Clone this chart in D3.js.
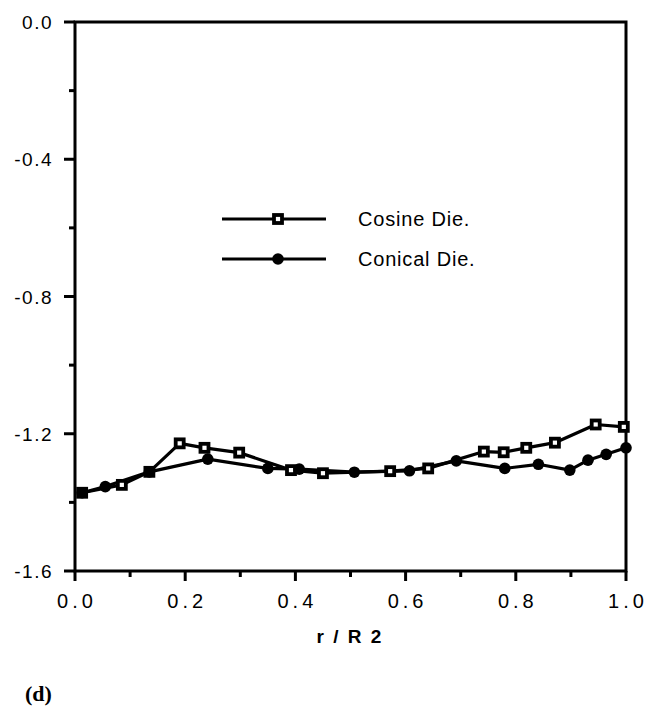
<!DOCTYPE html>
<html>
<head>
<meta charset="utf-8">
<script src="https://cdn.jsdelivr.net/npm/d3@7"></script>
<style>
  html, body { margin: 0; padding: 0; background: #fff; }
  svg { display: block; }
  text { font-family: "Liberation Sans", Arial, Helvetica, sans-serif; fill: #000; }
</style>
</head>
<body>
<svg id="chart" width="661" height="711"></svg>
<script>
// ---- data ----
const cosineX = [0.013, 0.085, 0.135, 0.19, 0.235, 0.298, 0.392, 0.45, 0.572, 0.641, 0.742, 0.778, 0.819, 0.871, 0.945, 0.996];
const cosineY = [-1.372, -1.349, -1.311, -1.228, -1.241, -1.255, -1.306, -1.315, -1.309, -1.301, -1.252, -1.254, -1.241, -1.226, -1.173, -1.180];
const conicalX = [0.013, 0.055, 0.135, 0.241, 0.350, 0.407, 0.507, 0.607, 0.692, 0.780, 0.841, 0.898, 0.931, 0.964, 1.0];
const conicalY = [-1.372, -1.354, -1.311, -1.274, -1.301, -1.303, -1.312, -1.308, -1.279, -1.301, -1.289, -1.306, -1.277, -1.260, -1.241];
const xTicks = [0.0, 0.2, 0.4, 0.6, 0.8, 1.0];
const xMinorTicks = [0.1, 0.3, 0.5, 0.7, 0.9];
const yTicks = [0.0, -0.4, -0.8, -1.2, -1.6];
const yMinorTicks = [-0.2, -0.6, -1.0, -1.4];
const seriesNames = ["Cosine Die.", "Conical Die."];
const xTitle = "r / R 2";
const panelLabel = "(d)";

// ---- layout ----
const svg = d3.select("#chart");
const pL = 75, pR = 626, pT = 22, pB = 571;
const x = d3.scaleLinear().domain([0, 1]).range([pL, pR]);
const y = d3.scaleLinear().domain([-1.6, 0]).range([pB, pT]);

// frame
svg.append("rect")
  .attr("x", pL).attr("y", pT)
  .attr("width", pR - pL).attr("height", pB - pT)
  .attr("fill", "none").attr("stroke", "#000").attr("stroke-width", 3);

// x axis
const xAxis = svg.append("g").attr("transform", `translate(0,${pB})`);
xAxis.selectAll("line.major").data(xTicks).join("line")
  .attr("class", "major")
  .attr("x1", d => x(d)).attr("x2", d => x(d))
  .attr("y1", 0).attr("y2", 10)
  .attr("stroke", "#000").attr("stroke-width", 3);
xAxis.selectAll("line.minor").data(xMinorTicks).join("line")
  .attr("class", "minor")
  .attr("x1", d => x(d)).attr("x2", d => x(d))
  .attr("y1", 0).attr("y2", 6)
  .attr("stroke", "#000").attr("stroke-width", 3);
xAxis.selectAll("text").data(xTicks).join("text")
  .attr("x", d => x(d) + 2).attr("y", 37)
  .attr("text-anchor", "middle")
  .attr("font-size", 20)
  .attr("letter-spacing", 4)
  .text(d => d.toFixed(1));

// y axis
const yAxis = svg.append("g").attr("transform", `translate(${pL},0)`);
yAxis.selectAll("line.major").data(yTicks).join("line")
  .attr("class", "major")
  .attr("x1", -11).attr("x2", 0)
  .attr("y1", d => y(d)).attr("y2", d => y(d))
  .attr("stroke", "#000").attr("stroke-width", 3);
yAxis.selectAll("line.minor").data(yMinorTicks).join("line")
  .attr("class", "minor")
  .attr("x1", -6).attr("x2", 0)
  .attr("y1", d => y(d)).attr("y2", d => y(d))
  .attr("stroke", "#000").attr("stroke-width", 3);
yAxis.selectAll("text").data(yTicks).join("text")
  .attr("x", -22).attr("y", d => y(d) + 7)
  .attr("text-anchor", "end")
  .attr("font-size", 19)
  .attr("letter-spacing", 1.5)
  .text(d => d.toFixed(1));

// axis title
svg.append("text")
  .attr("x", 350).attr("y", 643)
  .attr("text-anchor", "middle")
  .attr("font-size", 19).attr("font-weight", "bold")
  .attr("letter-spacing", 2)
  .text(xTitle);

// panel label
svg.append("text")
  .attr("x", 25).attr("y", 701)
  .style("font-family", "'Liberation Serif', 'Times New Roman', serif")
  .attr("font-size", 22).attr("font-weight", "bold")
  .text(panelLabel);

// data
const cosine = cosineX.map((v, i) => [v, cosineY[i]]);
const conical = conicalX.map((v, i) => [v, conicalY[i]]);
const line = d3.line().x(d => x(d[0])).y(d => y(d[1]));

svg.append("path").datum(cosine).attr("d", line)
  .attr("fill", "none").attr("stroke", "#000").attr("stroke-width", 3.2).attr("stroke-linejoin", "round");
svg.append("path").datum(conical).attr("d", line)
  .attr("fill", "none").attr("stroke", "#000").attr("stroke-width", 3.2).attr("stroke-linejoin", "round");

const sq = 8;
svg.append("g").selectAll("rect").data(cosine).join("rect")
  .attr("x", d => x(d[0]) - sq / 2).attr("y", d => y(d[1]) - sq / 2)
  .attr("width", sq).attr("height", sq)
  .attr("fill", "#fff").attr("stroke", "#000").attr("stroke-width", 3.8);
svg.append("g").selectAll("circle").data(conical).join("circle")
  .attr("cx", d => x(d[0])).attr("cy", d => y(d[1]))
  .attr("r", 5.8).attr("fill", "#000");

// legend
const lg = svg.append("g");
const legendRows = [{ name: seriesNames[0], yy: 219, kind: "square" }, { name: seriesNames[1], yy: 259, kind: "circle" }];
legendRows.forEach(r => {
  lg.append("line").attr("x1", 222).attr("x2", 326).attr("y1", r.yy).attr("y2", r.yy)
    .attr("stroke", "#000").attr("stroke-width", 3);
  if (r.kind === "square") {
    lg.append("rect").attr("x", 278 - sq / 2).attr("y", r.yy - sq / 2)
      .attr("width", sq).attr("height", sq)
      .attr("fill", "#fff").attr("stroke", "#000").attr("stroke-width", 3.8);
  } else {
    lg.append("circle").attr("cx", 278).attr("cy", r.yy).attr("r", 5.8).attr("fill", "#000");
  }
  lg.append("text").attr("x", 358).attr("y", r.yy + 7)
    .attr("font-size", 20).attr("letter-spacing", 0.8).text(r.name);
});
</script>
</body>
</html>
